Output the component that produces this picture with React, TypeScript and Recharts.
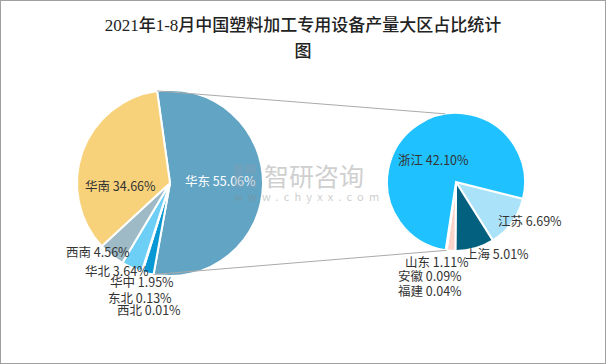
import React from 'react';
import { PieChart, Pie, Cell } from 'recharts';

// ---- data ----
const mainNames = ['华东', '华中', '东北', '西北', '华北', '西南', '华南'];
const mainValues = [55.06, 1.95, 0.13, 0.01, 3.64, 4.56, 34.66];
const mainColors = ['#62A4C4', '#0898D3', '#4F7F93', '#3D6E86', '#6DCFF6', '#9EBAC7', '#F7D27B'];

const subNames = ['江苏', '上海', '山东', '安徽', '福建', '浙江'];
const subValues = [6.69, 5.01, 1.11, 0.09, 0.04, 42.1];
const subColors = ['#A9E2F9', '#03607F', '#F8D4CB', '#D9D9D9', '#BFBFBF', '#1FC1FE'];

const titleLines = ['2021年1-8月中国塑料加工专用设备产量大区占比统计', '图'];

// ---- layout ----
const W = 606;
const H = 364;
const LEFT = { cx: 170, cy: 183, r: 93, startClock: -8 };
const RIGHT = { cx: 456, cy: 182, r: 69, startClock: 104 };

// label placements relative to pie centre (left edge of text, vertical centre)
const mainLabelPos: Record<string, [number, number]> = {
  华东: [15, -3],
  华中: [-60, 98],
  东北: [-62, 114],
  西北: [-53, 126],
  华北: [-85, 87],
  西南: [-104, 68],
  华南: [-85, 2],
};
const subLabelPos: Record<string, [number, number]> = {
  江苏: [42, 38],
  上海: [9, 71],
  山东: [-51, 79],
  安徽: [-58, 93],
  福建: [-58, 108],
  浙江: [-58, -23],
};

const mainData = mainNames.map((n, i) => ({ name: n, value: mainValues[i] }));
const subData = subNames.map((n, i) => ({ name: n, value: subValues[i] }));

const FONT = "'Noto Sans CJK SC', 'Noto Sans', sans-serif";

const pt = (p: { cx: number; cy: number; r: number }, clock: number) => ({
  x: p.cx + p.r * Math.sin((clock * Math.PI) / 180),
  y: p.cy - p.r * Math.cos((clock * Math.PI) / 180),
});

const makeLabel = (pos: Record<string, [number, number]>, white?: string) => (props: any) => {
  const { cx, cy, name, value } = props;
  const off = pos[name] || [0, 0];
  return (
    <text
      x={cx + off[0]}
      y={cy + off[1]}
      dominantBaseline="central"
      textAnchor="start"
      fontSize={12.5}
      fontFamily={FONT}
      fill={name === white ? '#ffffff' : '#333333'}
    >
      {`${name} ${Number(value).toFixed(2)}%`}
    </text>
  );
};

export default function App() {
  const mainEndClock = LEFT.startClock + (mainValues[0] / mainValues.reduce((a, b) => a + b, 0)) * 360;
  const lt = pt(LEFT, LEFT.startClock);
  const lb = pt(LEFT, mainEndClock);
  const rt = pt(RIGHT, -9);
  const rb = pt(RIGHT, 188);
  return (
    <div style={{ position: 'absolute', left: 0, top: 0, width: W, height: H, background: '#fff' }}>
      <PieChart width={W} height={H} margin={{ top: 0, right: 0, bottom: 0, left: 0 }}>
        <Pie
          data={mainData}
          dataKey="value"
          nameKey="name"
          cx={LEFT.cx}
          cy={LEFT.cy}
          outerRadius={LEFT.r}
          startAngle={90 - LEFT.startClock}
          endAngle={90 - LEFT.startClock - 360}
          stroke="#ffffff"
          strokeWidth={2}
          label={makeLabel(mainLabelPos, '华东')}
          labelLine={false}
          isAnimationActive={false}
        >
          {mainData.map((d, i) => (
            <Cell key={d.name} fill={mainColors[i]} />
          ))}
        </Pie>
        <Pie
          data={subData}
          dataKey="value"
          nameKey="name"
          cx={RIGHT.cx}
          cy={RIGHT.cy}
          outerRadius={RIGHT.r}
          startAngle={90 - RIGHT.startClock}
          endAngle={90 - RIGHT.startClock - 360}
          stroke="#ffffff"
          strokeWidth={2}
          label={makeLabel(subLabelPos)}
          labelLine={false}
          isAnimationActive={false}
        >
          {subData.map((d, i) => (
            <Cell key={d.name} fill={subColors[i]} />
          ))}
        </Pie>
      </PieChart>
      <svg width={W} height={H} style={{ position: 'absolute', left: 0, top: 0, pointerEvents: 'none' }}>
        <rect x={0.5} y={0.5} width={W - 1} height={H - 1} fill="none" stroke="#a0a0a0" strokeWidth={1} />
        <line x1={lt.x} y1={lt.y} x2={rt.x} y2={rt.y} stroke="#aaaaaa" strokeWidth={1} />
        <line x1={lb.x} y1={lb.y} x2={rb.x} y2={rb.y} stroke="#aaaaaa" strokeWidth={1} />
        {titleLines.map((t, i) => (
          <text
            key={i}
            x={W / 2}
            y={25 + i * 26}
            textAnchor="middle"
            dominantBaseline="central"
            fontSize={17}
            fontFamily="'Liberation Serif', 'Noto Sans CJK SC', serif"
            fontWeight={500}
            fill="#222222"
          >
            {t}
          </text>
        ))}
        <g opacity={0.4}>
          <rect x={234} y={164} width={9} height={24} fill="#7f9fb5" />
          <rect x={245} y={164} width={11} height={10} fill="#7f9fb5" />
          <rect x={249} y={178} width={7} height={10} fill="#7f9fb5" />
          <text x={264} y={175} dominantBaseline="central" fontSize={25} fontFamily={FONT} fill="#888888">
            智研咨询
          </text>
          <text x={234} y={196} dominantBaseline="central" fontSize={11} fontFamily={FONT} fill="#888888" letterSpacing={5.2}>
            www.chyxx.com
          </text>
        </g>
      </svg>
    </div>
  );
}
